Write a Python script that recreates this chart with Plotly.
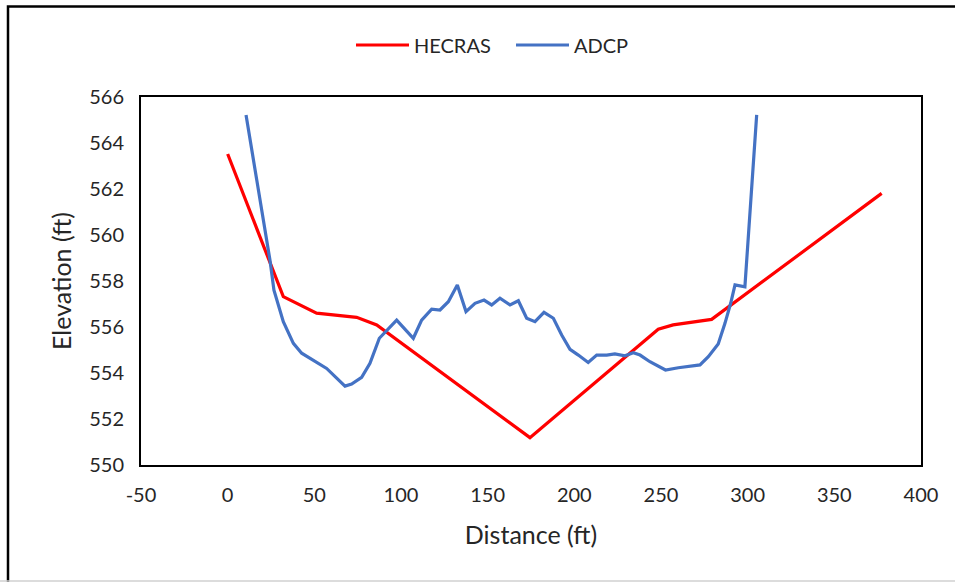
import plotly.graph_objects as go

# HEC-RAS cross-section
hecras_x = [0, 32.1, 51.3, 74.4, 86.0, 174.4, 248.4, 257.0, 279.2, 377.3]
hecras_y = [563.52, 557.32, 556.6, 556.42, 556.09, 551.19, 555.9, 556.09, 556.33, 561.81]

# ADCP measured bed profile
adcp_x = [10.6, 24.4, 26.7, 32.1, 37.9, 42.7, 57.1, 67.7, 71.5, 77.3, 82.1, 87.5,
          97.5, 107.1, 111.9, 117.7, 122.5, 127.3, 132.5, 137.5, 142.7, 147.9,
          152.3, 157.1, 162.9, 167.7, 172.5, 177.3, 182.5, 187.9, 192.7, 197.5,
          202.3, 208.0, 212.9, 218.7, 223.4, 229.2, 234.0, 237.9, 243.6, 252.6,
          260.0, 272.5, 277.3, 283.0, 286.9, 290.2, 292.7, 298.4, 305.2]
adcp_y = [565.22, 558.91, 557.6, 556.23, 555.29, 554.86, 554.2, 553.43, 553.52,
          553.81, 554.42, 555.51, 556.3, 555.51, 556.3, 556.78, 556.74, 557.1,
          557.83, 556.67, 557.03, 557.17, 556.96, 557.25, 556.96, 557.14, 556.38,
          556.23, 556.64, 556.38, 555.65, 555.03, 554.78, 554.46, 554.78, 554.78,
          554.83, 554.75, 554.88, 554.78, 554.49, 554.13, 554.23, 554.35, 554.71,
          555.26, 556.16, 557.03, 557.83, 557.75, 565.22]

x_ticks = [-50, 0, 50, 100, 150, 200, 250, 300, 350, 400]
y_ticks = [550, 552, 554, 556, 558, 560, 562, 564, 566]

FONT = "Lato, 'Liberation Sans', sans-serif"
TXT = "#262626"

fig = go.Figure()
fig.add_trace(go.Scatter(x=hecras_x, y=hecras_y, mode="lines", name="HECRAS",
                         line=dict(color="#FF0000", width=3.2)))
fig.add_trace(go.Scatter(x=adcp_x, y=adcp_y, mode="lines", name="ADCP",
                         line=dict(color="#4472C4", width=3.2)))

L, R, T, B = 141, 34, 97, 117
W, H = 955, 582
pw, ph = W - L - R, H - T - B

def px(x):
    return (x - L) / pw

def py(y):
    return (H - B - y) / ph

fig.update_layout(
    width=W, height=H,
    margin=dict(l=L, r=R, t=T, b=B),
    paper_bgcolor="white", plot_bgcolor="white",
    font=dict(family=FONT, color=TXT, size=20),
    showlegend=True,
    legend=dict(orientation="h", x=px(511), y=py(45), xanchor="center", yanchor="middle",
                font=dict(size=20, family=FONT, color=TXT), itemwidth=53,
                entrywidth=92, entrywidthmode="pixels",
                bgcolor="rgba(0,0,0,0)"),
    xaxis=dict(range=[-50, 400], tickvals=x_ticks, ticktext=[str(v) for v in x_ticks],
               showgrid=False, zeroline=False, showline=True, mirror=True,
               linecolor="black", linewidth=2, ticks="", ticklabelstandoff=11,
               tickfont=dict(size=20, family=FONT, color=TXT),
               title=dict(text="Distance (ft)", font=dict(size=25, family=FONT, color=TXT),
                          standoff=21)),
    yaxis=dict(range=[550, 566], tickvals=y_ticks, ticktext=[str(v) for v in y_ticks],
               showgrid=False, zeroline=False, showline=True, mirror=True,
               linecolor="black", linewidth=2, ticks="", ticklabelstandoff=11,
               tickfont=dict(size=20, family=FONT, color=TXT),
               title=dict(text="Elevation (ft)", font=dict(size=25, family=FONT, color=TXT),
                          standoff=10)),
    shapes=[
        dict(type="rect", xref="paper", yref="paper", x0=px(8), x1=px(980), y0=py(6.5), y1=py(600),
             line=dict(color="black", width=2.5), fillcolor="rgba(0,0,0,0)", layer="below"),
        dict(type="line", xref="paper", yref="paper", x0=px(0), x1=px(960), y0=py(581), y1=py(581),
             line=dict(color="#d0d0d0", width=1.5)),
    ],
)

fig.write_html("out.html", config={"displayModeBar": False},
               post_script="document.body.style.margin='0';")
